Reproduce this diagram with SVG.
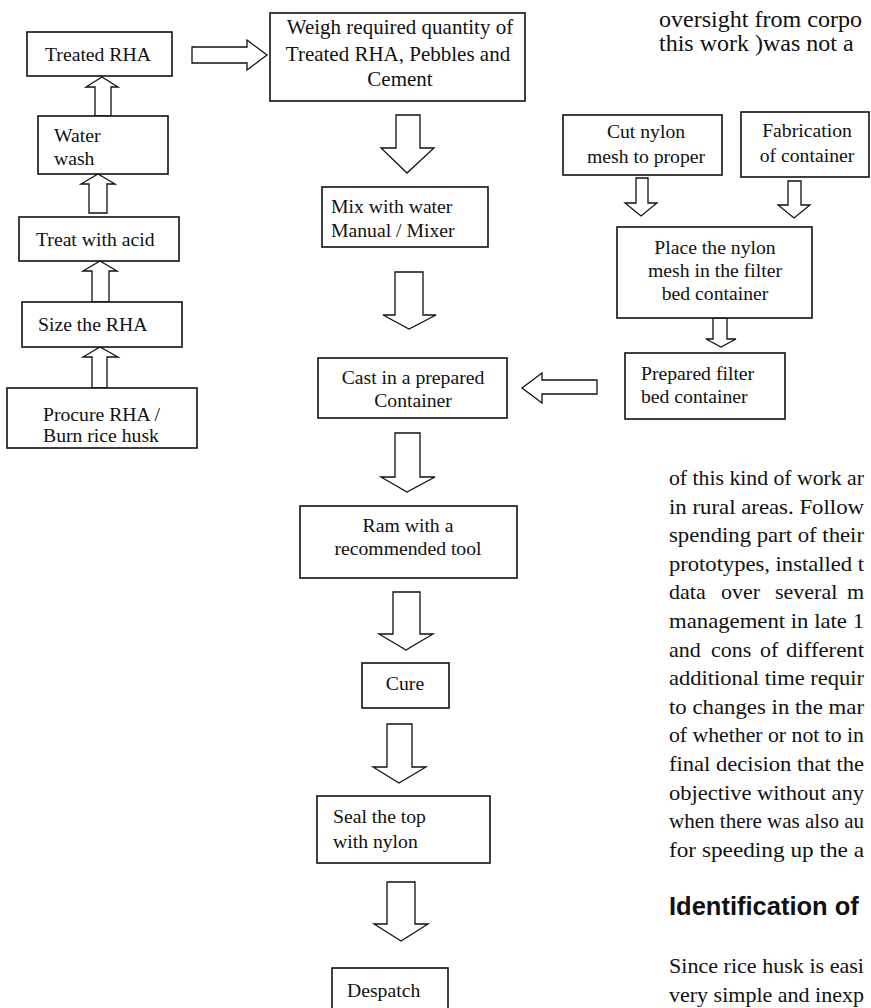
<svg xmlns="http://www.w3.org/2000/svg" width="871" height="1008" viewBox="0 0 871 1008">
  <style>
    .box { fill: #fff; stroke: #111; stroke-width: 1.6; }
    .arrow { fill: #fff; stroke: #111; stroke-width: 1.3; stroke-linejoin: miter; }
    .t { font-family: "Liberation Serif", "Times New Roman", serif; font-size: 19.7px; fill: #111; }
    .big { font-size: 21px; }
    .c { text-anchor: middle; }
    .p { font-family: "Liberation Serif", "Times New Roman", serif; font-size: 24px; fill: #111; }
    .q { font-family: "Liberation Serif", "Times New Roman", serif; font-size: 22px; fill: #111; }
    .h { font-family: "Liberation Sans", Arial, sans-serif; font-size: 25.5px; font-weight: bold; fill: #111; }
  </style>
  <rect width="871" height="1008" fill="#fff"/>

  <!-- block-arrow connectors -->
  <g id="connectors">
    <!-- left column, pointing up -->
    <path class="arrow" d="M95,116 L95,87 L86,87 L102,77 L118,87 L111,87 L111,116 Z"/>
    <path class="arrow" d="M89,213 L89,184 L81,184 L98,174 L115,184 L107,184 L107,213 Z"/>
    <path class="arrow" d="M92,302 L92,271 L83,271 L100,261 L117,271 L109,271 L109,302 Z"/>
    <path class="arrow" d="M92,388 L92,357 L83,357 L100,347 L118,357 L107,357 L107,388 Z"/>
    <!-- Treated RHA to weighing -->
    <path class="arrow" d="M192,47 L247,47 L247,40 L267,55 L247,70 L247,63 L192,63 Z"/>
    <!-- main column, pointing down -->
    <path class="arrow" d="M396,115 L420,115 L420,148 L434,148 L407,173 L381,148 L396,148 Z"/>
    <path class="arrow" d="M395,272 L423,272 L423,315 L436,315 L409,329 L383,315 L395,315 Z"/>
    <path class="arrow" d="M395,433 L420,433 L420,477 L435,477 L407,492 L381,477 L395,477 Z"/>
    <path class="arrow" d="M393,592 L420,592 L420,634 L433,634 L406,650 L379,634 L393,634 Z"/>
    <path class="arrow" d="M387,724 L412,724 L412,767 L426,767 L399,783 L373,767 L387,767 Z"/>
    <path class="arrow" d="M387,882 L415,882 L415,924 L428,924 L401,941 L374,924 L387,924 Z"/>
    <!-- filter bed branch -->
    <path class="arrow" d="M636,178 L648,178 L648,203 L657,203 L641,216 L625,203 L636,203 Z"/>
    <path class="arrow" d="M788,181 L801,181 L801,205 L810,205 L794,218 L778,205 L788,205 Z"/>
    <path class="arrow" d="M713,318 L727,318 L727,339 L736,339 L721,347 L706,339 L713,339 Z"/>
    <!-- prepared container into casting -->
    <path class="arrow" d="M597,380 L542,380 L542,373 L522,388 L542,403 L542,394 L597,394 Z"/>
  </g>

  <!-- rice husk ash preparation -->
  <g id="treated-rha">
    <rect class="box" x="27" y="32" width="145" height="44"/>
    <text class="t c" x="98" y="61">Treated RHA</text>
  </g>
  <g id="water-wash">
    <rect class="box" x="38" y="116" width="130" height="58"/>
    <text class="t" x="54" y="142">Water</text>
    <text class="t" x="54" y="165">wash</text>
  </g>
  <g id="treat-acid">
    <rect class="box" x="19" y="217" width="160" height="44"/>
    <text class="t" x="36" y="246">Treat with acid</text>
  </g>
  <g id="size-rha">
    <rect class="box" x="22" y="302" width="160" height="45"/>
    <text class="t" x="38" y="331">Size the RHA</text>
  </g>
  <g id="procure-rha">
    <rect class="box" x="7" y="388" width="190" height="60"/>
    <text class="t" x="43" y="421">Procure RHA /</text>
    <text class="t" x="43" y="442">Burn rice husk</text>
  </g>

  <!-- main production line -->
  <g id="weigh">
    <rect class="box" x="270" y="13" width="255" height="88"/>
    <text class="t big c" x="400" y="34">Weigh required quantity of</text>
    <text class="t big c" x="398" y="61">Treated RHA, Pebbles and</text>
    <text class="t big c" x="400" y="86">Cement</text>
  </g>
  <g id="mix">
    <rect class="box" x="322" y="187" width="166" height="60"/>
    <text class="t" x="331" y="213">Mix with water</text>
    <text class="t" x="331" y="237">Manual / Mixer</text>
  </g>
  <g id="cast">
    <rect class="box" x="318" y="358" width="189" height="60"/>
    <text class="t c" x="413" y="384">Cast in a prepared</text>
    <text class="t c" x="413" y="407">Container</text>
  </g>
  <g id="ram">
    <rect class="box" x="300" y="506" width="217" height="72"/>
    <text class="t c" x="408" y="532">Ram with a</text>
    <text class="t c" x="408" y="555">recommended tool</text>
  </g>
  <g id="cure">
    <rect class="box" x="362" y="663" width="87" height="45"/>
    <text class="t c" x="405" y="690">Cure</text>
  </g>
  <g id="seal">
    <rect class="box" x="317" y="796" width="173" height="67"/>
    <text class="t" x="333" y="823">Seal the top</text>
    <text class="t" x="333" y="848">with nylon</text>
  </g>
  <g id="despatch">
    <rect class="box" x="332" y="968" width="116" height="60"/>
    <text class="t" x="347" y="997">Despatch</text>
  </g>

  <!-- filter bed container branch -->
  <g id="cut-mesh">
    <rect class="box" x="563" y="115" width="159" height="60"/>
    <text class="t c" x="646" y="138">Cut nylon</text>
    <text class="t c" x="646" y="163">mesh to proper</text>
  </g>
  <g id="fabrication">
    <rect class="box" x="741" y="112" width="128" height="65"/>
    <text class="t c" x="807" y="137">Fabrication</text>
    <text class="t c" x="807" y="162">of container</text>
  </g>
  <g id="place-mesh">
    <rect class="box" x="617" y="227" width="195" height="91"/>
    <text class="t c" x="715" y="254">Place the nylon</text>
    <text class="t c" x="715" y="277">mesh in the filter</text>
    <text class="t c" x="715" y="300">bed container</text>
  </g>
  <g id="prepared-container">
    <rect class="box" x="625" y="353" width="160" height="66"/>
    <text class="t" x="641" y="380">Prepared filter</text>
    <text class="t" x="641" y="403">bed container</text>
  </g>

  <!-- running body text beside the chart -->
  <g id="body-text">
    <text class="p" x="659" y="27" textLength="203" lengthAdjust="spacingAndGlyphs">oversight from corpo</text>
    <text class="p" x="659" y="51">this work )was not a</text>
    <text class="q" x="669" y="485" textLength="195" lengthAdjust="spacingAndGlyphs">of this kind of work ar</text>
    <text class="q" x="669" y="514" textLength="195" lengthAdjust="spacingAndGlyphs">in rural areas. Follow</text>
    <text class="q" x="669" y="542" textLength="195" lengthAdjust="spacingAndGlyphs">spending part of their</text>
    <text class="q" x="669" y="571" textLength="195" lengthAdjust="spacingAndGlyphs">prototypes, installed t</text>
    <text class="q" y="599"><tspan x="669">data</tspan><tspan x="721">over</tspan><tspan x="775">several</tspan><tspan x="847">m</tspan></text>
    <text class="q" x="669" y="628" textLength="195" lengthAdjust="spacingAndGlyphs">management in late 1</text>
    <text class="q" y="657"><tspan x="669">and</tspan><tspan x="711">cons</tspan><tspan x="760">of</tspan><tspan x="786" textLength="78" lengthAdjust="spacingAndGlyphs">different</tspan></text>
    <text class="q" x="669" y="685" textLength="195" lengthAdjust="spacingAndGlyphs">additional time requir</text>
    <text class="q" x="669" y="714" textLength="195" lengthAdjust="spacingAndGlyphs">to changes in the mar</text>
    <text class="q" x="669" y="742" textLength="195" lengthAdjust="spacingAndGlyphs">of whether or not to in</text>
    <text class="q" x="669" y="771" textLength="195" lengthAdjust="spacingAndGlyphs">final decision that the</text>
    <text class="q" x="669" y="800" textLength="195" lengthAdjust="spacingAndGlyphs">objective without any</text>
    <text class="q" x="669" y="828" textLength="195" lengthAdjust="spacingAndGlyphs">when there was also au</text>
    <text class="q" x="669" y="857" textLength="195" lengthAdjust="spacingAndGlyphs">for speeding up the a</text>
    <text class="h" x="669" y="915">Identification of</text>
    <text class="q" x="669" y="973" textLength="195" lengthAdjust="spacingAndGlyphs">Since rice husk is easi</text>
    <text class="q" x="669" y="1002" textLength="195" lengthAdjust="spacingAndGlyphs">very simple and inexp</text>
  </g>
</svg>
